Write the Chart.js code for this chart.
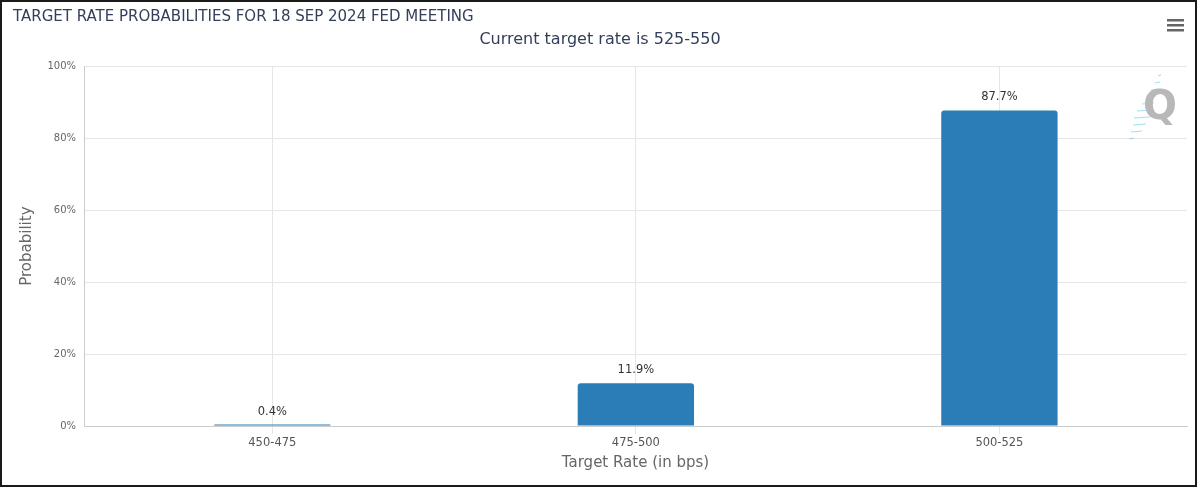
<!DOCTYPE html>
<html>
<head>
<meta charset="utf-8">
<script src="https://cdn.jsdelivr.net/npm/chart.js@4"></script>
<style>
  html, body { margin: 0; padding: 0; background: #fff; }
  #wrap { position: relative; width: 1200px; height: 489px; }
  #frame { position: absolute; left: 0; top: 0; width: 1197px; height: 487px; box-sizing: border-box;
           border: 2px solid #1a1a1a; pointer-events: none; }
  canvas { display: block; }
</style>
</head>
<body>
<div id="wrap">
  <canvas id="c" width="1200" height="489"></canvas>
  <div id="frame"></div>
</div>
<script>
const chartTitle = "TARGET RATE PROBABILITIES FOR 18 SEP 2024 FED MEETING";
const chartSubtitle = "Current target rate is 525-550";
const categories = ["450-475", "475-500", "500-525"];
const probabilities = [0.4, 11.9, 87.7];
const yTickValues = [0, 20, 40, 60, 80, 100];
const xAxisTitle = "Target Rate (in bps)";
const yAxisTitle = "Probability";

const FONT = "'DejaVu Sans', sans-serif";

const points = categories.map((c, i) => ({ x: i, y: probabilities[i] }));

const dataLabels = {
  id: 'dataLabels',
  afterDatasetsDraw(chart) {
    const ctx = chart.ctx;
    const meta = chart.getDatasetMeta(0);
    ctx.save();
    ctx.font = "11.5px " + FONT;
    ctx.fillStyle = "#333333";
    ctx.textAlign = "center";
    ctx.textBaseline = "middle";
    meta.data.forEach((bar, i) => {
      ctx.fillText(probabilities[i].toFixed(1) + "%", bar.x, bar.y - 13);
    });
    ctx.restore();
  }
};

const decorations = {
  id: 'decorations',
  afterDraw(chart) {
    const ctx = chart.ctx;
    ctx.save();
    // menu icon
    ctx.fillStyle = "#666666";
    for (let i = 0; i < 3; i++) {
      ctx.fillRect(1167, 19 + i * 5, 17, 2.5);
    }
    // watermark
    ctx.strokeStyle = "rgba(90,205,240,0.6)";
    ctx.lineWidth = 1.2;
    const dashes = [[1158,76,1161,75],[1155,83,1160,82],[1151,90,1158,89],[1147,97,1156,96],[1142,104,1154,103],[1137,111,1153,110],[1134,118,1150,117],[1133,125,1146,124],[1131,132,1142,131],[1129,139,1134,138]];
    dashes.forEach(d => { ctx.beginPath(); ctx.moveTo(d[0], d[1]); ctx.lineTo(d[2], d[3]); ctx.stroke(); });
    ctx.fillStyle = "#b8b8b8";
    ctx.font = "bold 40px " + FONT;
    ctx.textAlign = "center";
    ctx.textBaseline = "middle";
    ctx.fillText("Q", 1160, 109);
    ctx.restore();
  }
};

new Chart(document.getElementById('c'), {
  type: 'bar',
  data: {
    datasets: [{
      data: points,
      backgroundColor: "#2b7db8",
      borderRadius: 3,
      borderSkipped: 'bottom',
      barPercentage: 0.32,
      categoryPercentage: 1.0
    }]
  },
  options: {
    responsive: false,
    animation: false,
    devicePixelRatio: 1,
    layout: { padding: { left: 13, right: 13, top: 0, bottom: 0 } },
    plugins: {
      legend: { display: false },
      tooltip: { enabled: false },
      title: {
        display: true,
        text: chartTitle,
        align: 'start',
        color: "#333e5a",
        font: { family: FONT, size: 15, weight: 'normal', lineHeight: 1.2 },
        padding: { top: 8, bottom: 0 }
      },
      subtitle: {
        display: true,
        text: chartSubtitle,
        align: 'center',
        color: "#333e5a",
        font: { family: FONT, size: 16, weight: 'normal', lineHeight: 1.2 },
        padding: { top: 4, bottom: 17 }
      }
    },
    scales: {
      x: {
        type: 'linear',
        offset: false,
        min: -0.518,
        max: 2.516,
        afterBuildTicks(scale) { scale.ticks = categories.map((c, i) => ({ value: i })); },
        grid: {
          offset: false,
          color: "#e6e6e6",
          drawTicks: true,
          tickLength: 8,
          tickColor: "#e6e6e6"
        },
        border: { display: true, color: "#cccccc", width: 1 },
        ticks: {
          color: "#555555",
          font: { family: FONT, size: 11.5 },
          padding: 2,
          callback: v => categories[v]
        },
        title: {
          display: true,
          text: xAxisTitle,
          color: "#666666",
          font: { family: FONT, size: 15, lineHeight: 1.2 },
          padding: { top: 0, bottom: 17 }
        },
        afterFit(scale) { scale.height = 63; }
      },
      y: {
        min: 0,
        max: 100,
        afterBuildTicks(scale) { scale.ticks = yTickValues.map(v => ({ value: v })); },
        grid: { color: "#e6e6e6", drawTicks: false },
        border: { display: true, color: "#cccccc", width: 1 },
        ticks: {
          color: "#666666",
          font: { family: FONT, size: 10 },
          padding: 8,
          callback: v => v + "%"
        },
        title: {
          display: true,
          text: yAxisTitle,
          color: "#666666",
          font: { family: FONT, size: 15, lineHeight: 1.2 },
          padding: { top: 5, bottom: 0 }
        },
        afterFit(scale) { scale.width = 71; }
      }
    }
  },
  plugins: [dataLabels, decorations]
});
</script>
</body>
</html>
